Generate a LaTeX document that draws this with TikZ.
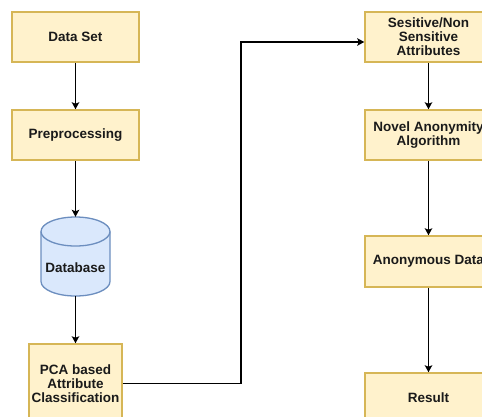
\documentclass[tikz,border=0pt]{standalone}
\usepackage{fontspec}
\setmainfont{Liberation Sans}
\usetikzlibrary{arrows.meta,calc}
\definecolor{boxfill}{HTML}{FFF2CC}
\definecolor{boxdraw}{HTML}{D6B656}
\definecolor{cylfill}{HTML}{DAE8FC}
\definecolor{cyldraw}{HTML}{6C8EBF}
\definecolor{txt}{HTML}{1A1A1A}
\tikzset{
  procbox/.style={draw=boxdraw, fill=boxfill, line width=1.5pt, inner sep=0pt,
    align=center, text=txt, font=\fontsize{13.5}{14}\selectfont\bfseries},
  lbl/.style={inner sep=0pt, align=center, text=txt, font=\fontsize{13.5}{14}\selectfont\bfseries},
  conn/.style={draw=black, line width=1.3pt, -{Stealth[length=7pt,width=7.5pt,inset=1.5pt]}},
  plainline/.style={draw=black, line width=1.3pt}
}
\begin{document}
\begin{tikzpicture}[x=1pt,y=-1pt]
\useasboundingbox (0,0) rectangle (482,416);
\clip (0,0) rectangle (482,416);
\fill[white] (0,0) rectangle (482,416);

% left column
\node[procbox, minimum width=127pt, minimum height=50pt] (ds) at (75.5,37) {Data Set};
\node[procbox, minimum width=127pt, minimum height=50pt] (pre) at (75.5,135) {Preprocessing};

% cylinder
\path[draw=cyldraw, fill=cylfill, line width=1.3pt]
  (41,231.5) -- (41,281.5) arc[start angle=180, end angle=360, x radius=34.5pt, y radius=14.5pt]
  -- (110,231.5) arc[start angle=0, end angle=180, x radius=34.5pt, y radius=14.5pt] -- cycle;
\draw[cyldraw, line width=1.3pt] (41,231.5) arc[start angle=180, end angle=360, x radius=34.5pt, y radius=14.5pt];
\node[minimum width=69pt, minimum height=79pt, inner sep=0pt] (db) at (75.5,256.5) {};
\node[lbl] (dbtext) at (75.5,268) {Database};

\node[procbox, minimum width=93pt, minimum height=79pt] (pca) at (75.5,383.5) {PCA based\\Attribute\\Classification};

% right column
\node[procbox, minimum width=127pt, minimum height=50pt] (ses) at (428.5,37) {Sesitive/Non\\Sensitive\\Attributes};
\node[procbox, minimum width=127pt, minimum height=50pt] (nov) at (428.5,135) {Novel Anonymity\\Algorithm};
\node[procbox, minimum width=127pt, minimum height=51pt] (anon) at (428.5,261.5) {Anonymous Data};
\node[procbox, minimum width=127pt, minimum height=50pt] (res) at (428.5,398) {Result};

% connectors
\draw[conn] (ds) -- (pre);
\draw[conn] (pre) -- (db.north);
\draw[conn] (db.south) -- (pca);
\coordinate (bend) at (241,383.5);
\draw[conn] (pca.east) -- (bend) |- ([yshift=-5pt]ses.west);
\draw[conn] (ses) -- (nov);
\draw[conn] (nov) -- (anon);
\draw[conn] (anon) -- (res);
\end{tikzpicture}
\end{document}
